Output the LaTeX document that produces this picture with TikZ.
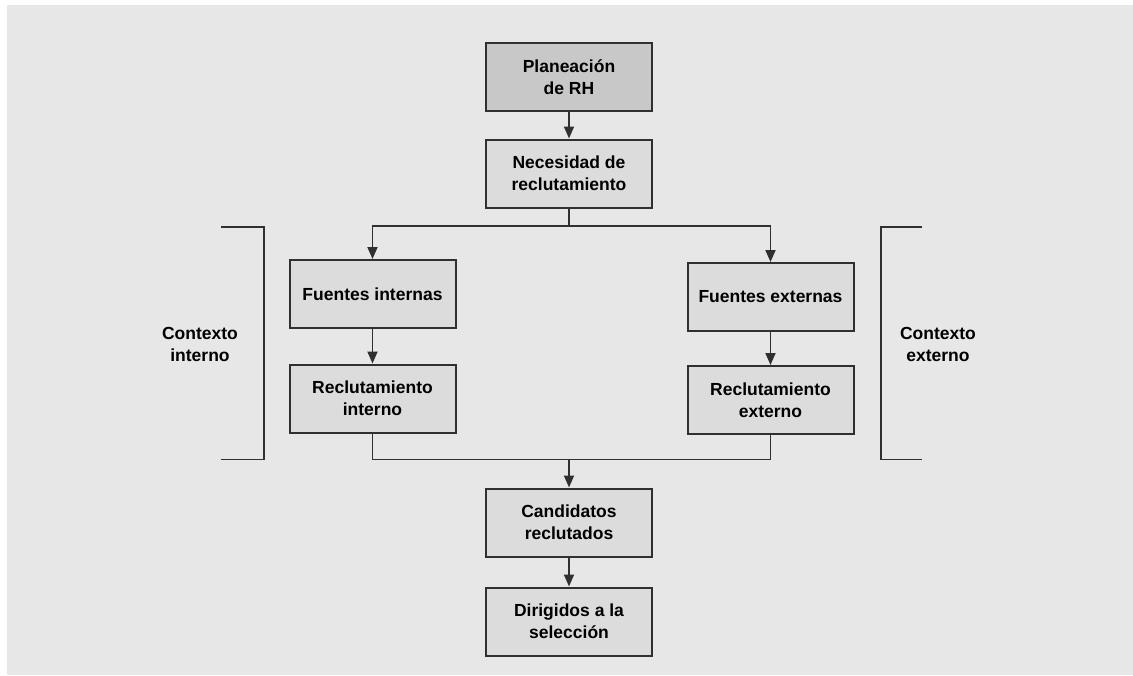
\documentclass[tikz,border=0pt]{standalone}
\usepackage{fontspec}
\setmainfont{Liberation Sans}
\usetikzlibrary{arrows.meta}
\definecolor{pagebg}{HTML}{E7E7E7}
\definecolor{boxfill}{HTML}{DCDCDC}
\definecolor{topfill}{HTML}{C8C8C8}
\definecolor{edge}{HTML}{303030}
\tikzset{
  stepbox/.style={draw=edge, line width=2pt, fill=boxfill, minimum width=166pt,
    minimum height=68pt, inner sep=0pt, align=center,
    font=\fontsize{17.5}{22}\selectfont\bfseries, text=black},
  topbox/.style={stepbox, fill=topfill},
  link/.style={draw=edge, line width=1.8pt},
  arr/.style={link, -{Triangle[length=12pt,width=10pt]}},
  ctxlabel/.style={align=center, font=\fontsize{17.5}{22}\selectfont\bfseries, text=black},
}
\begin{document}
\begin{tikzpicture}[x=1pt,y=-1pt]
  \useasboundingbox (0,0) rectangle (1133,675);
  \fill[white] (0,0) rectangle (1133,675);
  \fill[pagebg] (7,5) rectangle (1133,675);

  % main flow
  \node[topbox] (plan) at (569,77) {Planeación\\de RH};
  \node[stepbox] (nec) at (569,173.5) {Necesidad de\\reclutamiento};
  \node[stepbox] (fi) at (372.5,294) {Fuentes internas};
  \node[stepbox] (ri) at (372.5,398.5) {Reclutamiento\\interno};
  \node[stepbox] (fe) at (770.5,297) {Fuentes externas};
  \node[stepbox] (re) at (770.5,400) {Reclutamiento\\externo};
  \node[stepbox] (cand) at (569,522.5) {Candidatos\\reclutados};
  \node[stepbox] (dir) at (569,621.5) {Dirigidos a la\\selección};

  \coordinate (split) at (569,226);
  \coordinate (merge) at (569,459.5);

  \draw[arr] (plan) -- (nec);
  \draw[link] (nec) -- (split);
  \draw[arr] (split) -| (fi);
  \draw[arr] (split) -| (fe);
  \draw[arr] (fi) -- (ri);
  \draw[arr] (fe) -- (re);
  \draw[link] (ri.south) |- (merge);
  \draw[link] (re.south) |- (merge);
  \draw[arr] (merge) -- (cand);
  \draw[arr] (cand) -- (dir);

  % context brackets
  \draw[link] (221,227) -- (264,227) -- (264,459.5) -- (221,459.5);
  \draw[link] (922,227) -- (881,227) -- (881,459.5) -- (922,459.5);
  \node[ctxlabel] (ctxint) at (200,344) {Contexto\\interno};
  \node[ctxlabel] (ctxext) at (938,344) {Contexto\\externo};
\end{tikzpicture}
\end{document}
